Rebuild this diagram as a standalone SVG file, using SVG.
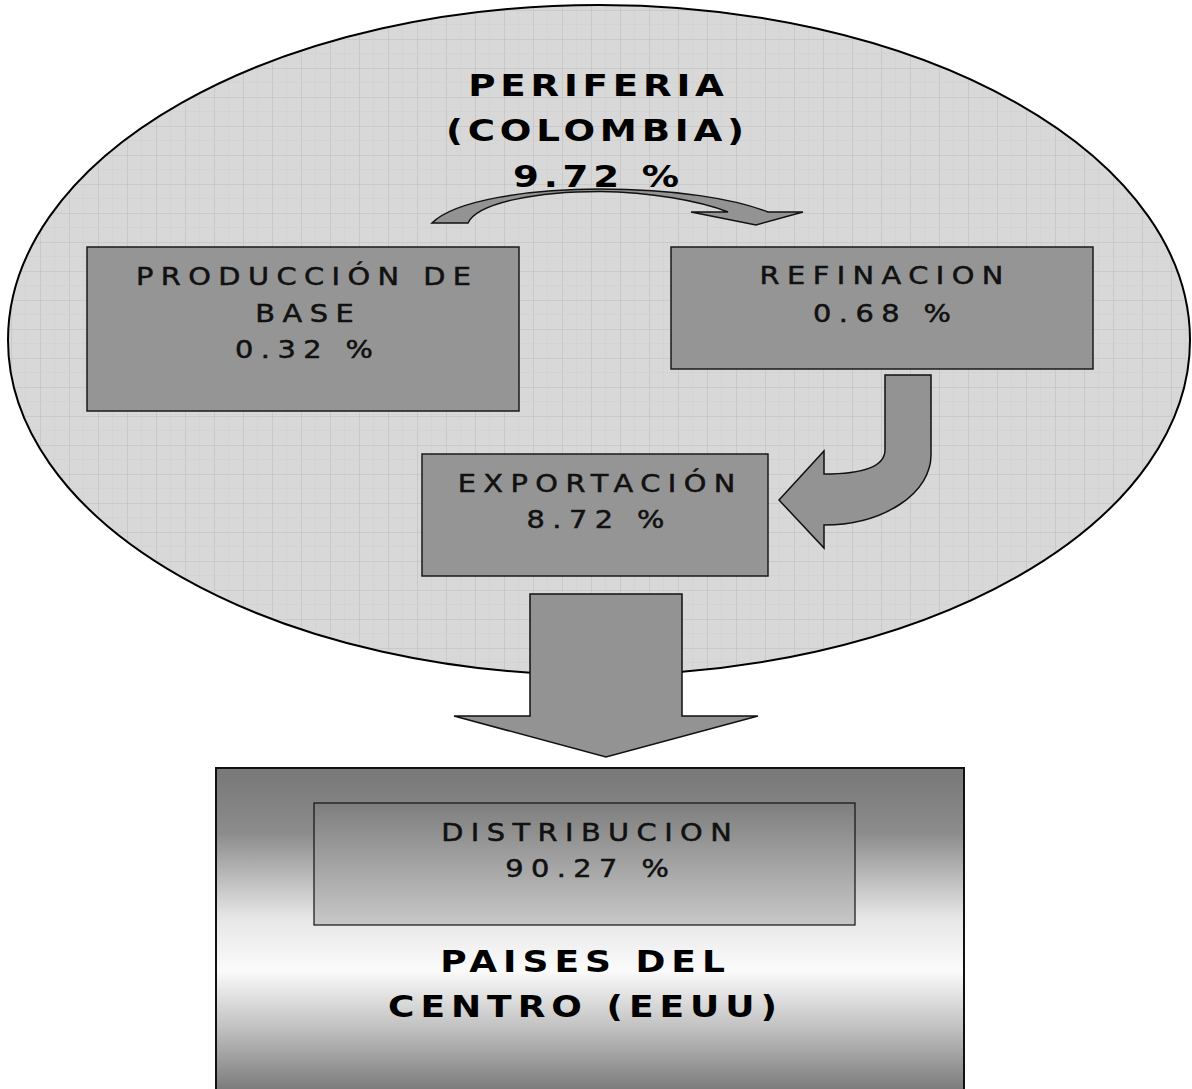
<svg xmlns="http://www.w3.org/2000/svg" width="1192" height="1089" viewBox="0 0 1192 1089">
  <style>
    .box { fill: #959595; stroke: #1a1a1a; stroke-width: 1.5; }
    .arrow { fill: #939393; stroke: #111; stroke-width: 1.5; stroke-linejoin: miter; }
    .t { font-family: "DejaVu Sans", "Liberation Sans", sans-serif; font-size: 24px; letter-spacing: 6.2px; text-anchor: middle; fill: #111; stroke: #111; stroke-width: 0.5px; }
    .title { font-family: "DejaVu Sans", "Liberation Sans", sans-serif; font-size: 31px; font-weight: bold; letter-spacing: 4px; text-anchor: middle; fill: #000; }
    .big { font-family: "DejaVu Sans", "Liberation Sans", sans-serif; font-size: 30px; font-weight: bold; letter-spacing: 5px; text-anchor: middle; fill: #000; }
  </style>
  <defs>
    <pattern id="grid" patternUnits="userSpaceOnUse" x="11" y="10" width="29" height="29">
      <rect width="29" height="29" fill="#d8d8d8"/>
      <path d="M0 0 H29 M0 0 V29" stroke="#c6c6c6" stroke-width="1.6" fill="none"/>
      <path d="M14.5 0 V29 M0 14.5 H29" stroke="#d2d2d2" stroke-width="0.8" fill="none"/>
    </pattern>
    <linearGradient id="outerGrad" x1="0" y1="777" x2="0" y2="1089" gradientUnits="userSpaceOnUse">
      <stop offset="0" stop-color="#7a7a7a"/>
      <stop offset="0.18" stop-color="#8c8c8c"/>
      <stop offset="0.45" stop-color="#e6e6e6"/>
      <stop offset="0.62" stop-color="#fbfbfb"/>
      <stop offset="0.8" stop-color="#c2c2c2"/>
      <stop offset="1" stop-color="#7c7c7c"/>
    </linearGradient>
    <linearGradient id="innerGrad" x1="0" y1="803" x2="0" y2="925" gradientUnits="userSpaceOnUse">
      <stop offset="0" stop-color="#7e7e7e"/>
      <stop offset="1" stop-color="#c8c8c8"/>
    </linearGradient>
  </defs>

  <rect width="1192" height="1089" fill="#ffffff"/>

  <g id="periferia">
    <ellipse cx="599" cy="340" rx="591" ry="335" fill="url(#grid)" stroke="#000" stroke-width="2"/>
    <text class="title" transform="translate(598.4,96) scale(1.2,1)">PERIFERIA</text>
    <text class="title" transform="translate(597.4,141) scale(1.2,1)">(COLOMBIA)</text>
    <text class="title" transform="translate(598.4,187) scale(1.2,1)">9.72 %</text>
  </g>

  <g id="produccion">
    <rect class="box" x="87" y="247" width="432" height="164"/>
    <text class="t" transform="translate(307.2,285) scale(1.2,1)">PRODUCCIÓN DE</text>
    <text class="t" transform="translate(308.2,322) scale(1.2,1)">BASE</text>
    <text class="t" transform="translate(307.7,358) scale(1.2,1)">0.32 %</text>
  </g>

  <g id="refinacion">
    <rect class="box" x="671" y="247" width="422" height="122"/>
    <text class="t" transform="translate(885.2,284) scale(1.2,1)">REFINACION</text>
    <text class="t" transform="translate(885.7,322) scale(1.2,1)">0.68 %</text>
  </g>

  <g id="exportacion">
    <rect class="box" x="422" y="454" width="346" height="122"/>
    <text class="t" transform="translate(600.2,492) scale(1.2,1)">EXPORTACIÓN</text>
    <text class="t" transform="translate(599.2,528) scale(1.2,1)">8.72 %</text>
  </g>

  <g id="centro">
    <rect x="216" y="768" width="748" height="330" fill="url(#outerGrad)" stroke="#111" stroke-width="2"/>
    <text class="big" transform="translate(585.5,972) scale(1.2,1)">PAISES DEL</text>
    <text class="big" transform="translate(585.5,1017) scale(1.2,1)">CENTRO (EEUU)</text>
  </g>

  <g id="distribucion">
    <rect x="314" y="803" width="541" height="122" fill="url(#innerGrad)" stroke="#111" stroke-width="1.2"/>
    <text class="t" transform="translate(590.2,841) scale(1.2,1)">DISTRIBUCION</text>
    <text class="t" transform="translate(590.7,877) scale(1.2,1)">90.27 %</text>
  </g>

  <g id="connectors">
    <path class="arrow" d="M432,223 C455,200 530,189 600,189 C675,189 735,199 768,212 L803,212 L756,225 L691,212 L728,212 C700,201 650,192 600,191.5 C540,191.5 478,202 468,223 Z"/>
    <path class="arrow" d="M885,375 L931,375 L931,455 A107,70 0 0 1 824,525 L824,548 L779,500 L824,451 L824,474 C866,474 885,466 885,450 Z"/>
    <path class="arrow" d="M530,594 L682,594 L682,716 L758,716 L606,757 L454,716 L530,716 Z"/>
  </g>
</svg>
